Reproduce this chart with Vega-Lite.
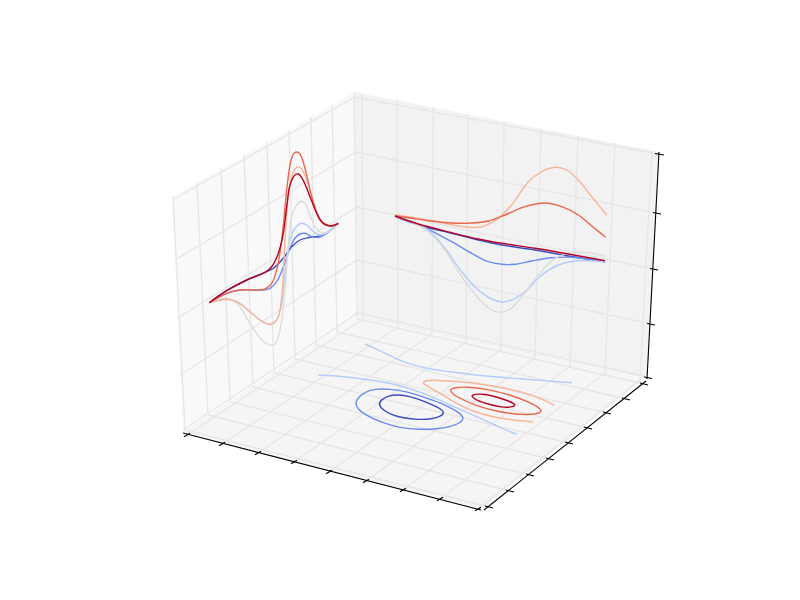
{"$schema":"https://vega.github.io/schema/vega-lite/v6.json","width":800,"height":600,"padding":0,"autosize":{"type":"fit","contains":"padding"},"background":"#ffffff","config":{"view":{"stroke":null}},
"datasets":{
"panes":[
{"pane":"left","u":172,"v":197,"v2":197},{"pane":"left","u":183,"v":190.7,"v2":432},{"pane":"left","u":354,"v":92,"v2":320.6},{"pane":"left","u":358,"v":92,"v2":318},
{"pane":"back","u":354,"v":92,"v2":92},{"pane":"back","u":358,"v":92.8,"v2":318},{"pane":"back","u":647,"v":149.6,"v2":379},{"pane":"back","u":659,"v":152,"v2":152},
{"pane":"floor","u":183,"v":432,"v2":432},{"pane":"floor","u":358,"v":318,"v2":477.2},{"pane":"floor","u":481,"v":344.1,"v2":509},{"pane":"floor","u":645,"v":379,"v2":379}],
"grid":[
{"id":"x1","u":187,"v":435},{"id":"x1","u":363,"v":319},{"id":"x1","u":362,"v":93},
{"id":"x2","u":222,"v":444},{"id":"x2","u":398,"v":327},{"id":"x2","u":397,"v":100},
{"id":"x3","u":258,"v":453},{"id":"x3","u":432,"v":334},{"id":"x3","u":433,"v":107},
{"id":"x4","u":294,"v":462},{"id":"x4","u":466,"v":342},{"id":"x4","u":468,"v":114},
{"id":"x5","u":329,"v":472},{"id":"x5","u":501,"v":350},{"id":"x5","u":504,"v":121},
{"id":"x6","u":366,"v":481},{"id":"x6","u":535,"v":358},{"id":"x6","u":541,"v":129},
{"id":"x7","u":403,"v":490},{"id":"x7","u":570,"v":366},{"id":"x7","u":578,"v":136},
{"id":"x8","u":440,"v":499},{"id":"x8","u":605,"v":373},{"id":"x8","u":615,"v":143},
{"id":"x9","u":478,"v":509},{"id":"x9","u":640,"v":380},{"id":"x9","u":652,"v":151},
{"id":"y1","u":489,"v":507},{"id":"y1","u":185,"v":430},{"id":"y1","u":173,"v":196},
{"id":"y2","u":510,"v":491},{"id":"y2","u":208,"v":415},{"id":"y2","u":197,"v":182},
{"id":"y3","u":530,"v":475},{"id":"y3","u":230,"v":402},{"id":"y3","u":221,"v":168},
{"id":"y4","u":550,"v":459},{"id":"y4","u":253,"v":387},{"id":"y4","u":244,"v":155},
{"id":"y5","u":569,"v":443},{"id":"y5","u":274,"v":373},{"id":"y5","u":267,"v":142},
{"id":"y6","u":588,"v":428},{"id":"y6","u":295,"v":359},{"id":"y6","u":289,"v":130},
{"id":"y7","u":607,"v":413},{"id":"y7","u":316,"v":345},{"id":"y7","u":311,"v":117},
{"id":"y8","u":626,"v":399},{"id":"y8","u":337,"v":332},{"id":"y8","u":332,"v":105},
{"id":"y9","u":644,"v":384},{"id":"y9","u":357,"v":319},{"id":"y9","u":354,"v":92},
{"id":"z1","u":172,"v":200},{"id":"z1","u":355,"v":97},{"id":"z1","u":658,"v":154},
{"id":"z2","u":175,"v":260},{"id":"z2","u":356,"v":152},{"id":"z2","u":656,"v":213},
{"id":"z3","u":177.7,"v":318},{"id":"z3","u":357,"v":207},{"id":"z3","u":653,"v":269},
{"id":"z4","u":180.3,"v":375},{"id":"z4","u":357,"v":260},{"id":"z4","u":651,"v":324},
{"id":"z5","u":183,"v":430},{"id":"z5","u":358,"v":313},{"id":"z5","u":648,"v":377}],
"axes":[
{"id":"ax","u":183,"v":433},{"id":"ax","u":481,"v":510},
{"id":"ay","u":484,"v":510},{"id":"ay","u":646,"v":381},
{"id":"az","u":647,"v":379},{"id":"az","u":659,"v":152},
{"id":"tx1","u":184,"v":436.8},{"id":"tx1","u":190,"v":433.2},{"id":"tx2","u":219,"v":445.8},{"id":"tx2","u":225,"v":442.2},{"id":"tx3","u":255,"v":454.8},{"id":"tx3","u":261,"v":451.2},{"id":"tx4","u":291,"v":463.8},{"id":"tx4","u":297,"v":460.2},{"id":"tx5","u":326,"v":473.8},{"id":"tx5","u":332,"v":470.2},{"id":"tx6","u":363,"v":482.8},{"id":"tx6","u":369,"v":479.2},{"id":"tx7","u":400,"v":491.8},{"id":"tx7","u":406,"v":488.2},{"id":"tx8","u":437,"v":500.8},{"id":"tx8","u":443,"v":497.2},{"id":"tx9","u":475,"v":510.8},{"id":"tx9","u":481,"v":507.2},
{"id":"ty1","u":485,"v":506},{"id":"ty1","u":493,"v":508},{"id":"ty2","u":506,"v":490},{"id":"ty2","u":514,"v":492},{"id":"ty3","u":526,"v":474},{"id":"ty3","u":534,"v":476},{"id":"ty4","u":546,"v":458},{"id":"ty4","u":554,"v":460},{"id":"ty5","u":565,"v":442},{"id":"ty5","u":573,"v":444},{"id":"ty6","u":584,"v":427},{"id":"ty6","u":592,"v":429},{"id":"ty7","u":603,"v":412},{"id":"ty7","u":611,"v":414},{"id":"ty8","u":622,"v":398},{"id":"ty8","u":630,"v":400},{"id":"ty9","u":640,"v":383},{"id":"ty9","u":648,"v":385},
{"id":"tz1","u":655,"v":153.5},{"id":"tz1","u":664,"v":155},{"id":"tz2","u":653,"v":212.5},{"id":"tz2","u":661,"v":214},{"id":"tz3","u":650,"v":268.5},{"id":"tz3","u":658,"v":270},{"id":"tz4","u":647,"v":323.5},{"id":"tz4","u":655,"v":325},{"id":"tz5","u":644,"v":377},{"id":"tz5","u":652,"v":378.5}],
"rings":[
{"id":"F1","level":1,"u":378,"v":404},{"id":"F1","level":1,"u":381.7,"v":399.5},{"id":"F1","level":1,"u":388.3,"v":395.6},{"id":"F1","level":1,"u":398.3,"v":394.6},{"id":"F1","level":1,"u":410,"v":396.3},{"id":"F1","level":1,"u":425,"v":401.4},{"id":"F1","level":1,"u":438.3,"v":407.4},{"id":"F1","level":1,"u":445,"v":412.3},{"id":"F1","level":1,"u":441,"v":416.3},{"id":"F1","level":1,"u":431.7,"v":419.1},{"id":"F1","level":1,"u":418.3,"v":419.7},{"id":"F1","level":1,"u":403.3,"v":418.1},{"id":"F1","level":1,"u":391.7,"v":414.7},{"id":"F1","level":1,"u":383.3,"v":410.3},
{"id":"F2","level":2,"u":355,"v":403.3},{"id":"F2","level":2,"u":358,"v":397.4},{"id":"F2","level":2,"u":365,"v":391.9},{"id":"F2","level":2,"u":375,"v":388.9},{"id":"F2","level":2,"u":390,"v":389},{"id":"F2","level":2,"u":406.7,"v":391.4},{"id":"F2","level":2,"u":426.7,"v":398},{"id":"F2","level":2,"u":446.7,"v":405.4},{"id":"F2","level":2,"u":458.3,"v":412},{"id":"F2","level":2,"u":464.5,"v":417.7},{"id":"F2","level":2,"u":460.5,"v":423},{"id":"F2","level":2,"u":450,"v":427},{"id":"F2","level":2,"u":436.7,"v":429},{"id":"F2","level":2,"u":420,"v":429.6},{"id":"F2","level":2,"u":400,"v":428},{"id":"F2","level":2,"u":381.7,"v":422.6},{"id":"F2","level":2,"u":365,"v":414.6},{"id":"F2","level":2,"u":358,"v":409.3},
{"id":"F6","level":6,"u":447.5,"v":390},{"id":"F6","level":6,"u":455,"v":387.4},{"id":"F6","level":6,"u":466.7,"v":386.7},{"id":"F6","level":6,"u":486.7,"v":389},{"id":"F6","level":6,"u":510,"v":394.7},{"id":"F6","level":6,"u":530,"v":402.4},{"id":"F6","level":6,"u":541,"v":408.8},{"id":"F6","level":6,"u":541.7,"v":412.6},{"id":"F6","level":6,"u":531.7,"v":414.6},{"id":"F6","level":6,"u":516.7,"v":414.6},{"id":"F6","level":6,"u":496.7,"v":411.3},{"id":"F6","level":6,"u":476.7,"v":406},{"id":"F6","level":6,"u":458.3,"v":398},
{"id":"F7","level":7,"u":470,"v":396},{"id":"F7","level":7,"u":475,"v":394},{"id":"F7","level":7,"u":485,"v":394},{"id":"F7","level":7,"u":496.7,"v":397},{"id":"F7","level":7,"u":510,"v":401.4},{"id":"F7","level":7,"u":516.5,"v":405},{"id":"F7","level":7,"u":511.7,"v":407.3},{"id":"F7","level":7,"u":501.7,"v":407.3},{"id":"F7","level":7,"u":490,"v":404.6},{"id":"F7","level":7,"u":478.3,"v":401.3}],
"curves":[
{"id":"L1","level":1,"u":209.3,"v":302.7},{"id":"L1","level":1,"u":226.7,"v":290.7},{"id":"L1","level":1,"u":246.7,"v":280},{"id":"L1","level":1,"u":265,"v":272.3},{"id":"L1","level":1,"u":273.3,"v":268.3},{"id":"L1","level":1,"u":283.3,"v":258.3},{"id":"L1","level":1,"u":291.7,"v":246.7},{"id":"L1","level":1,"u":300,"v":240},{"id":"L1","level":1,"u":310,"v":237.3},{"id":"L1","level":1,"u":320,"v":236},{"id":"L1","level":1,"u":328.3,"v":231.7},{"id":"L1","level":1,"u":338.3,"v":223.3},
{"id":"R1","level":1,"u":395,"v":216.7},{"id":"R1","level":1,"u":418.3,"v":225},{"id":"R1","level":1,"u":451.7,"v":233.3},{"id":"R1","level":1,"u":478.3,"v":240},{"id":"R1","level":1,"u":501.7,"v":245},{"id":"R1","level":1,"u":535,"v":250},{"id":"R1","level":1,"u":568.3,"v":256},{"id":"R1","level":1,"u":605,"v":261.7},
{"id":"L2","level":2,"u":209.3,"v":302.7},{"id":"L2","level":2,"u":226.7,"v":293.3},{"id":"L2","level":2,"u":240,"v":290},{"id":"L2","level":2,"u":253.3,"v":290},{"id":"L2","level":2,"u":263.3,"v":290},{"id":"L2","level":2,"u":270,"v":288.3},{"id":"L2","level":2,"u":276.7,"v":281.7},{"id":"L2","level":2,"u":283.3,"v":266.7},{"id":"L2","level":2,"u":290,"v":248.3},{"id":"L2","level":2,"u":295,"v":238.3},{"id":"L2","level":2,"u":300,"v":234},{"id":"L2","level":2,"u":305,"v":233.3},{"id":"L2","level":2,"u":311.7,"v":236.7},{"id":"L2","level":2,"u":318.3,"v":237.3},{"id":"L2","level":2,"u":326.7,"v":233.3},{"id":"L2","level":2,"u":338.3,"v":223.3},
{"id":"R2","level":2,"u":395,"v":216.7},{"id":"R2","level":2,"u":411.7,"v":221.7},{"id":"R2","level":2,"u":428.3,"v":229.3},{"id":"R2","level":2,"u":451.7,"v":241.7},{"id":"R2","level":2,"u":471.7,"v":253.3},{"id":"R2","level":2,"u":488.3,"v":261.7},{"id":"R2","level":2,"u":501.7,"v":264.3},{"id":"R2","level":2,"u":515,"v":264.3},{"id":"R2","level":2,"u":531.7,"v":261},{"id":"R2","level":2,"u":551.7,"v":257.7},{"id":"R2","level":2,"u":571.7,"v":257.3},{"id":"R2","level":2,"u":605,"v":261.7},
{"id":"L3","level":3,"u":209.3,"v":302.7},{"id":"L3","level":3,"u":226.7,"v":299.3},{"id":"L3","level":3,"u":236.7,"v":301.7},{"id":"L3","level":3,"u":250,"v":311.7},{"id":"L3","level":3,"u":260,"v":320},{"id":"L3","level":3,"u":268.3,"v":324.3},{"id":"L3","level":3,"u":271.7,"v":324.3},{"id":"L3","level":3,"u":276.7,"v":320},{"id":"L3","level":3,"u":281.7,"v":303.3},{"id":"L3","level":3,"u":285,"v":273.3},{"id":"L3","level":3,"u":290,"v":240},{"id":"L3","level":3,"u":295,"v":228.3},{"id":"L3","level":3,"u":301.7,"v":223.3},{"id":"L3","level":3,"u":306.7,"v":225},{"id":"L3","level":3,"u":313.3,"v":231.7},{"id":"L3","level":3,"u":320,"v":235},{"id":"L3","level":3,"u":328.3,"v":231.7},{"id":"L3","level":3,"u":338.3,"v":223.3},
{"id":"R3","level":3,"u":395,"v":216.7},{"id":"R3","level":3,"u":411.7,"v":221.7},{"id":"R3","level":3,"u":428.3,"v":230},{"id":"R3","level":3,"u":445,"v":248.3},{"id":"R3","level":3,"u":461.7,"v":271.7},{"id":"R3","level":3,"u":478.3,"v":290},{"id":"R3","level":3,"u":491.7,"v":299},{"id":"R3","level":3,"u":501.7,"v":302},{"id":"R3","level":3,"u":511.7,"v":300},{"id":"R3","level":3,"u":525,"v":291.7},{"id":"R3","level":3,"u":541.7,"v":275},{"id":"R3","level":3,"u":558.3,"v":265},{"id":"R3","level":3,"u":575,"v":261},{"id":"R3","level":3,"u":605,"v":261.7},
{"id":"F3a","level":3,"u":365,"v":344},{"id":"F3a","level":3,"u":383.3,"v":352.3},{"id":"F3a","level":3,"u":403.3,"v":361.7},{"id":"F3a","level":3,"u":426.7,"v":368.3},{"id":"F3a","level":3,"u":450,"v":371.7},{"id":"F3a","level":3,"u":483.3,"v":375.7},{"id":"F3a","level":3,"u":523.3,"v":379},{"id":"F3a","level":3,"u":571.7,"v":382.7},
{"id":"F3b","level":3,"u":318.3,"v":375},{"id":"F3b","level":3,"u":343.3,"v":376.7},{"id":"F3b","level":3,"u":370,"v":380},{"id":"F3b","level":3,"u":396.7,"v":385},{"id":"F3b","level":3,"u":423.3,"v":393.3},{"id":"F3b","level":3,"u":450,"v":405},{"id":"F3b","level":3,"u":476.7,"v":416.7},{"id":"F3b","level":3,"u":500,"v":427.3},{"id":"F3b","level":3,"u":516.7,"v":434.3},
{"id":"L4","level":4,"u":209.3,"v":302.7},{"id":"L4","level":4,"u":226.7,"v":298.3},{"id":"L4","level":4,"u":236.7,"v":303.3},{"id":"L4","level":4,"u":250,"v":323.3},{"id":"L4","level":4,"u":261.7,"v":340},{"id":"L4","level":4,"u":270,"v":345},{"id":"L4","level":4,"u":275,"v":344},{"id":"L4","level":4,"u":280,"v":330},{"id":"L4","level":4,"u":285,"v":290},{"id":"L4","level":4,"u":288.3,"v":246.7},{"id":"L4","level":4,"u":291.7,"v":216.7},{"id":"L4","level":4,"u":296.7,"v":205},{"id":"L4","level":4,"u":301,"v":201.3},{"id":"L4","level":4,"u":305,"v":203.3},{"id":"L4","level":4,"u":310,"v":215},{"id":"L4","level":4,"u":316.7,"v":229.3},{"id":"L4","level":4,"u":325,"v":233.3},{"id":"L4","level":4,"u":331.7,"v":228.3},{"id":"L4","level":4,"u":338.3,"v":223.3},
{"id":"R4","level":4,"u":395,"v":216.7},{"id":"R4","level":4,"u":411.7,"v":222.3},{"id":"R4","level":4,"u":428.3,"v":231.7},{"id":"R4","level":4,"u":445,"v":250},{"id":"R4","level":4,"u":461.7,"v":276.7},{"id":"R4","level":4,"u":478.3,"v":298.3},{"id":"R4","level":4,"u":491.7,"v":310},{"id":"R4","level":4,"u":500,"v":312.3},{"id":"R4","level":4,"u":510,"v":309.3},{"id":"R4","level":4,"u":521.7,"v":296.7},{"id":"R4","level":4,"u":538.3,"v":275},{"id":"R4","level":4,"u":555,"v":258.3},{"id":"R4","level":4,"u":571.7,"v":252.7},{"id":"R4","level":4,"u":585,"v":252.3},{"id":"R4","level":4,"u":605,"v":256},
{"id":"L5","level":5,"u":209.3,"v":302.7},{"id":"L5","level":5,"u":226.7,"v":299.3},{"id":"L5","level":5,"u":236.7,"v":301.7},{"id":"L5","level":5,"u":250,"v":311.7},{"id":"L5","level":5,"u":260,"v":320},{"id":"L5","level":5,"u":268.3,"v":324},{"id":"L5","level":5,"u":273.3,"v":323.3},{"id":"L5","level":5,"u":278.3,"v":316.7},{"id":"L5","level":5,"u":281.7,"v":296.7},{"id":"L5","level":5,"u":285,"v":240},{"id":"L5","level":5,"u":288.3,"v":196.7},{"id":"L5","level":5,"u":291.7,"v":176.7},{"id":"L5","level":5,"u":296.7,"v":167.3},{"id":"L5","level":5,"u":300,"v":167.3},{"id":"L5","level":5,"u":303.3,"v":171.7},{"id":"L5","level":5,"u":310,"v":190},{"id":"L5","level":5,"u":316.7,"v":211.7},{"id":"L5","level":5,"u":323.3,"v":224},{"id":"L5","level":5,"u":330,"v":226},{"id":"L5","level":5,"u":338.3,"v":223.3},
{"id":"R5","level":5,"u":395,"v":215},{"id":"R5","level":5,"u":411.7,"v":217.3},{"id":"R5","level":5,"u":428.3,"v":220},{"id":"R5","level":5,"u":448.3,"v":224},{"id":"R5","level":5,"u":468.3,"v":227.3},{"id":"R5","level":5,"u":481.7,"v":226.7},{"id":"R5","level":5,"u":495,"v":220.7},{"id":"R5","level":5,"u":511.7,"v":205},{"id":"R5","level":5,"u":528.3,"v":181.7},{"id":"R5","level":5,"u":541.7,"v":171.7},{"id":"R5","level":5,"u":555,"v":167.3},{"id":"R5","level":5,"u":566.7,"v":170},{"id":"R5","level":5,"u":578.3,"v":180},{"id":"R5","level":5,"u":591.7,"v":196.7},{"id":"R5","level":5,"u":606.7,"v":215},
{"id":"F5","level":5,"u":554.3,"v":405.3},{"id":"F5","level":5,"u":540,"v":398.3},{"id":"F5","level":5,"u":520,"v":391.7},{"id":"F5","level":5,"u":496.7,"v":386.7},{"id":"F5","level":5,"u":470,"v":382.7},{"id":"F5","level":5,"u":443.3,"v":380.7},{"id":"F5","level":5,"u":426.7,"v":380.7},{"id":"F5","level":5,"u":423.3,"v":382.7},{"id":"F5","level":5,"u":428.3,"v":386.7},{"id":"F5","level":5,"u":440,"v":393.3},{"id":"F5","level":5,"u":456.7,"v":403.3},{"id":"F5","level":5,"u":473.3,"v":411},{"id":"F5","level":5,"u":493.3,"v":416.7},{"id":"F5","level":5,"u":513.3,"v":420},{"id":"F5","level":5,"u":533.3,"v":421.7},
{"id":"L6","level":6,"u":209.3,"v":302.7},{"id":"L6","level":6,"u":226.7,"v":293.3},{"id":"L6","level":6,"u":240,"v":290},{"id":"L6","level":6,"u":253.3,"v":290},{"id":"L6","level":6,"u":265,"v":289},{"id":"L6","level":6,"u":271.7,"v":283.3},{"id":"L6","level":6,"u":276.7,"v":270},{"id":"L6","level":6,"u":281.7,"v":240},{"id":"L6","level":6,"u":286.7,"v":190},{"id":"L6","level":6,"u":290.7,"v":161.7},{"id":"L6","level":6,"u":294,"v":153.3},{"id":"L6","level":6,"u":296.7,"v":152},{"id":"L6","level":6,"u":300,"v":154},{"id":"L6","level":6,"u":305,"v":168.3},{"id":"L6","level":6,"u":310,"v":190},{"id":"L6","level":6,"u":315,"v":208.3},{"id":"L6","level":6,"u":320,"v":220},{"id":"L6","level":6,"u":325,"v":224.7},{"id":"L6","level":6,"u":331.7,"v":225.7},{"id":"L6","level":6,"u":338.3,"v":223.3},
{"id":"R6","level":6,"u":395,"v":215.7},{"id":"R6","level":6,"u":411.7,"v":218.3},{"id":"R6","level":6,"u":428.3,"v":220.7},{"id":"R6","level":6,"u":451.7,"v":223},{"id":"R6","level":6,"u":471.7,"v":223},{"id":"R6","level":6,"u":488.3,"v":221},{"id":"R6","level":6,"u":505,"v":215},{"id":"R6","level":6,"u":525,"v":206.7},{"id":"R6","level":6,"u":545,"v":203},{"id":"R6","level":6,"u":561.7,"v":206.7},{"id":"R6","level":6,"u":578.3,"v":215},{"id":"R6","level":6,"u":591.7,"v":226},{"id":"R6","level":6,"u":605.7,"v":237.3},
{"id":"L7","level":7,"u":209.3,"v":302.7},{"id":"L7","level":7,"u":226.7,"v":290.7},{"id":"L7","level":7,"u":246.7,"v":280},{"id":"L7","level":7,"u":265,"v":272.3},{"id":"L7","level":7,"u":271.7,"v":266.7},{"id":"L7","level":7,"u":278.3,"v":253.3},{"id":"L7","level":7,"u":283.3,"v":233.3},{"id":"L7","level":7,"u":286.7,"v":206.7},{"id":"L7","level":7,"u":290,"v":185},{"id":"L7","level":7,"u":295,"v":175},{"id":"L7","level":7,"u":298.3,"v":174},{"id":"L7","level":7,"u":302.7,"v":179.3},{"id":"L7","level":7,"u":310,"v":196.7},{"id":"L7","level":7,"u":316.7,"v":213.3},{"id":"L7","level":7,"u":321.7,"v":221.7},{"id":"L7","level":7,"u":326.7,"v":225},{"id":"L7","level":7,"u":331.7,"v":226},{"id":"L7","level":7,"u":338.3,"v":223.3},
{"id":"R7","level":7,"u":395,"v":216},{"id":"R7","level":7,"u":418.3,"v":224},{"id":"R7","level":7,"u":451.7,"v":232.7},{"id":"R7","level":7,"u":478.3,"v":239},{"id":"R7","level":7,"u":501.7,"v":243.3},{"id":"R7","level":7,"u":535,"v":248.3},{"id":"R7","level":7,"u":568.3,"v":254},{"id":"R7","level":7,"u":605,"v":260.7}
]},
"encoding":{
"x":{"field":"u","type":"quantitative","scale":{"domain":[0,800],"nice":false,"zero":false},"axis":null},
"y":{"field":"v","type":"quantitative","scale":{"domain":[600,0],"nice":false,"zero":false},"axis":null}},
"resolve":{"scale":{"color":"independent"}},
"layer":[
{"data":{"name":"panes"},"mark":{"type":"area","opacity":1},"encoding":{"y2":{"field":"v2"},"detail":{"field":"pane"},"color":{"field":"pane","type":"nominal","legend":null,"scale":{"domain":["left","back","floor"],"range":["#f9f9f9","#f2f2f2","#f5f5f5"]}}}},
{"data":{"name":"grid"},"transform":[{"window":[{"op":"row_number","as":"i"}]}],"mark":{"type":"line","color":"#e6e6e6","strokeWidth":1.3},"encoding":{"detail":{"field":"id"},"order":{"field":"i","type":"quantitative"}}},
{"data":{"name":"axes"},"transform":[{"window":[{"op":"row_number","as":"i"}]}],"mark":{"type":"line","color":"#000000","strokeWidth":1.1},"encoding":{"detail":{"field":"id"},"order":{"field":"i","type":"quantitative"}}},
{"data":{"name":"rings"},"transform":[{"window":[{"op":"row_number","as":"i"}]}],"mark":{"type":"line","interpolate":"basis-closed","strokeWidth":1.4},"encoding":{"detail":{"field":"id"},"order":{"field":"i","type":"quantitative"},"color":{"field":"level","type":"ordinal","legend":null,"scale":{"domain":[1,2,3,4,5,6,7],"range":["#3b4cc0","#6a8bef","#b2ccfb","#dddcdb","#f7b599","#e8684e","#b40426"]}}}},
{"data":{"name":"curves"},"transform":[{"window":[{"op":"row_number","as":"i"}]}],"mark":{"type":"line","interpolate":"catmull-rom","strokeWidth":1.4},"encoding":{"detail":{"field":"id"},"order":{"field":"i","type":"quantitative"},"color":{"field":"level","type":"ordinal","legend":null,"scale":{"domain":[1,2,3,4,5,6,7],"range":["#3b4cc0","#6a8bef","#b2ccfb","#dddcdb","#f7b599","#e8684e","#b40426"]}}}}
]}
